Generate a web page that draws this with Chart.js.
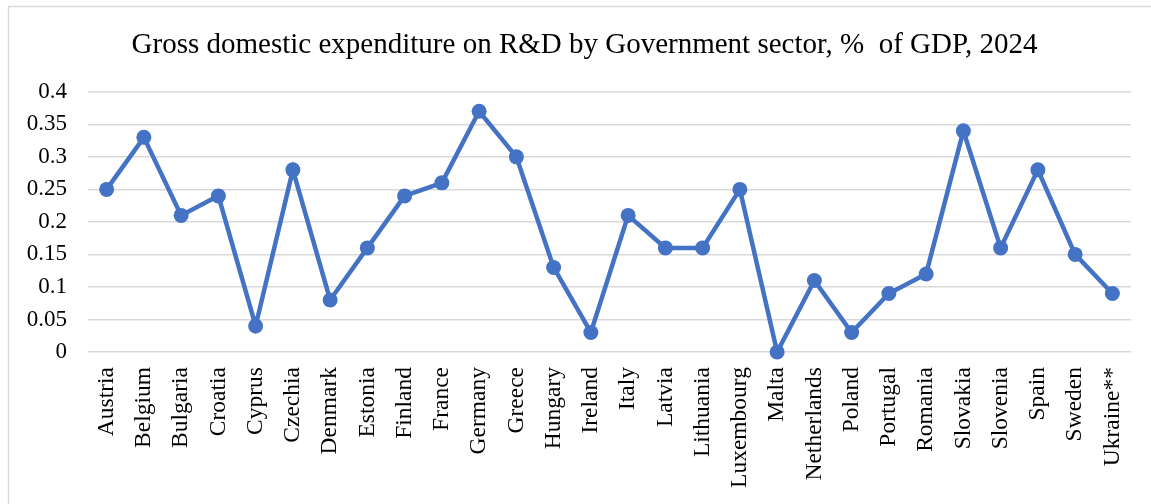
<!DOCTYPE html>
<html>
<head>
<meta charset="utf-8">
<script src="https://cdn.jsdelivr.net/npm/chart.js@4.4.1/dist/chart.umd.min.js"></script>
<style>
  html, body { margin: 0; padding: 0; background: #ffffff; }
  #wrap { position: relative; width: 1151px; height: 504px; }
</style>
</head>
<body>
<div id="wrap"><canvas id="c" width="1151" height="504"></canvas></div>
<script>
const countries = ["Austria", "Belgium", "Bulgaria", "Croatia", "Cyprus", "Czechia", "Denmark",
  "Estonia", "Finland", "France", "Germany", "Greece", "Hungary", "Ireland", "Italy", "Latvia",
  "Lithuania", "Luxembourg", "Malta", "Netherlands", "Poland", "Portugal", "Romania", "Slovakia",
  "Slovenia", "Spain", "Sweden", "Ukraine**"];
const govShareOfGdp = [0.25, 0.33, 0.21, 0.24, 0.04, 0.28, 0.08, 0.16, 0.24, 0.26, 0.37, 0.30,
  0.13, 0.03, 0.21, 0.16, 0.16, 0.25, 0.00, 0.11, 0.03, 0.09, 0.12, 0.34, 0.16, 0.28, 0.15, 0.09];
const yTicks = [0, 0.05, 0.1, 0.15, 0.2, 0.25, 0.3, 0.35, 0.4];
const chartTitle = "Gross domestic expenditure on R&D by Government sector, %  of GDP, 2024";

const serif = "'Liberation Serif', 'Times New Roman', serif";
const blue = "#4472C4";

// thin frame around the chart area, open at right and bottom
const framePlugin = {
  id: "frame",
  beforeDraw(chart) {
    const ctx = chart.ctx;
    ctx.save();
    ctx.strokeStyle = "#d9d9d9";
    ctx.lineWidth = 1.5;
    ctx.beginPath();
    ctx.moveTo(8.5, 504);
    ctx.lineTo(8.5, 6.5);
    ctx.lineTo(1151, 6.5);
    ctx.stroke();
    ctx.restore();
  }
};

// centre the title over the frame rather than the whole layout box
const titleCentering = {
  id: "titleCentering",
  afterLayout(chart) {
    if (chart.titleBlock) {
      chart.titleBlock.left = 38;
    }
  }
};

new Chart(document.getElementById("c"), {
  type: "line",
  data: {
    labels: countries,
    datasets: [{
      data: govShareOfGdp,
      borderColor: blue,
      backgroundColor: blue,
      borderWidth: 4.5,
      pointRadius: 7.5,
      pointHoverRadius: 7.5,
      pointBackgroundColor: blue,
      pointBorderColor: blue,
      pointBorderWidth: 0,
      tension: 0,
      clip: false
    }]
  },
  options: {
    responsive: false,
    animation: false,
    devicePixelRatio: 1,
    layout: { padding: { left: 0, right: 20, top: 0, bottom: 0 } },
    plugins: {
      legend: { display: false },
      tooltip: { enabled: false },
      title: {
        display: true,
        text: chartTitle,
        color: "#000000",
        font: { family: serif, size: 29, weight: "normal" },
        padding: { top: 28, bottom: 29 }
      }
    },
    scales: {
      x: {
        type: "category",
        offset: true,
        grid: { display: false },
        border: { display: false },
        ticks: {
          color: "#000000",
          font: { family: serif, size: 23.5 },
          minRotation: 90,
          maxRotation: 90,
          autoSkip: false,
          padding: 7
        },
        afterFit(scale) { scale.height = 152; }
      },
      y: {
        min: 0,
        max: 0.4,
        grid: { color: "#d9d9d9", lineWidth: 1.5, drawTicks: false },
        border: { display: false },
        afterBuildTicks(scale) { scale.ticks = yTicks.map(v => ({ value: v })); },
        ticks: {
          color: "#000000",
          font: { family: serif, size: 23 },
          padding: 21,
          callback: v => String(v)
        },
        afterFit(scale) { scale.width = 88; }
      }
    }
  },
  plugins: [framePlugin, titleCentering]
});
</script>
</body>
</html>
